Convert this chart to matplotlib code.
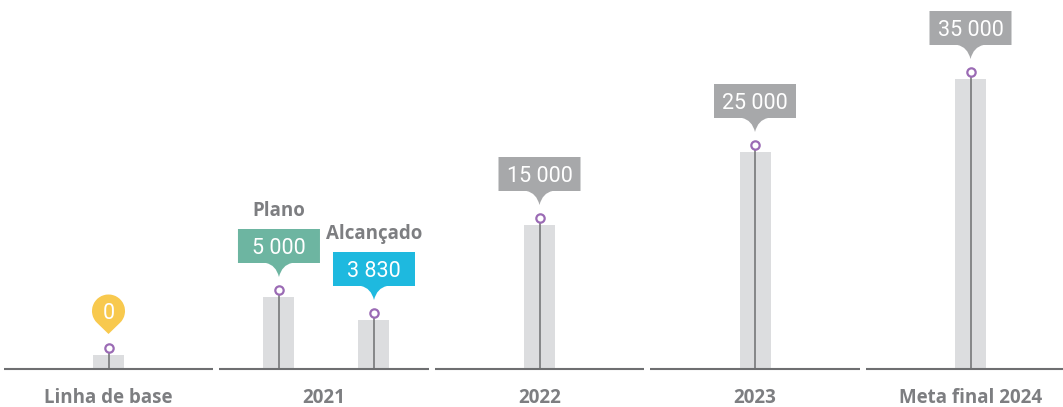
import matplotlib
matplotlib.use("Agg")
import matplotlib.pyplot as plt
import matplotlib.transforms as mtransforms
from matplotlib.path import Path
from matplotlib.patches import PathPatch
import numpy as np

# ---------------- data ----------------
categories = ["Linha de base", "2021", "2022", "2023", "Meta final 2024"]
bar_group = [0, 1, 1, 2, 3, 4]
bar_labels = ["0", "5 000", "3 830", "15 000", "25 000", "35 000"]
bar_values = [0, 5000, 3830, 15000, 25000, 35000]
# drawn heights (the original is not to scale)
bar_heights = [13.5, 71.5, 48.5, 143.5, 216.5, 289.5]
bar_sublabels = ["", "Plano", "Alcançado", "", "", ""]
callout_colors = ["#F8C94E", "#6DB5A1", "#1EB9DF", "#A7A8AA", "#A7A8AA", "#A7A8AA"]

# ---------------- layout / style ----------------
W, H, DPI = 1063, 407, 100
PX = 215.5                      # pixels per category
sub_offset = [0.0, -0.209, 0.232, 0.0, 0.0, 0.0]
bar_color = "#DCDDDF"
line_color = "#6E6F71"
text_color = "#7D7E81"
ring_color = "#9B6BB5"
LABEL_FONT = "Open Sans"
NUM_FONT = "Roboto"

fig = plt.figure(figsize=(W / DPI, H / DPI), dpi=DPI)
ax = fig.add_axes([0, 0, 1, 1])
ax.set_xlim(-108.5 / PX, (W - 108.5) / PX)
ax.set_ylim(-(H - 368.5), 368.5)
ax.axis("off")

x = np.array(bar_group, dtype=float) + np.array(sub_offset)
h = np.array(bar_heights)

# axis segments
for i in range(len(categories)):
    ax.hlines(0, i - 0.485, i + 0.485, color=line_color, lw=1.5, zorder=3)
    ax.text(i, -34.5, categories[i], ha="center", va="baseline",
            fontsize=13.5, fontweight="bold", color=text_color, family=LABEL_FONT)

# bars
ax.bar(x, h, width=31 / PX, color=bar_color, zorder=1)
ring_y = h + 7
ax.vlines(x, 0, ring_y - 4, color=line_color, lw=1.1, zorder=2)
ax.plot(x, ring_y, ls="none", marker="o", ms=6, mfc="white", mec=ring_color,
        mew=1.6, zorder=4)


def box_path():
    verts = [(-41, 27), (-13, 27), (-3, 25), (0, 13), (3, 25), (13, 27),
             (41, 27), (41, 61), (-41, 61), (-41, 27)]
    codes = [Path.MOVETO, Path.LINETO, Path.CURVE3, Path.CURVE3, Path.CURVE3,
             Path.CURVE3, Path.LINETO, Path.LINETO, Path.LINETO, Path.CLOSEPOLY]
    return Path(verts, codes)


def pin_path():
    r, cy, tip = 16.5, 37, 14
    d = cy - tip
    th = np.degrees(np.arccos(r / d))
    arc = Path.arc(-90 + th, 270 - th)
    arc_v = arc.vertices * r + np.array([0, cy])
    verts = [(0, tip)] + list(arc_v) + [(0, tip)]
    codes = [Path.MOVETO, Path.LINETO] + list(arc.codes[1:]) + [Path.CLOSEPOLY]
    return Path(verts, codes)


for k in range(len(bar_labels)):
    trans = mtransforms.Affine2D() + mtransforms.ScaledTranslation(x[k], ring_y[k], ax.transData)
    if k == 0:
        ax.add_patch(PathPatch(pin_path(), facecolor=callout_colors[k], edgecolor="none",
                               transform=trans, zorder=5))
        ty = 37
    else:
        ax.add_patch(PathPatch(box_path(), facecolor=callout_colors[k], edgecolor="none",
                               transform=trans, zorder=5))
        ty = 44
    tt = mtransforms.offset_copy(ax.transData, fig, x=0, y=ty, units="dots")
    ax.text(x[k], ring_y[k], bar_labels[k], transform=tt, ha="center", va="center_baseline",
            fontsize=15.5, color="white", family=NUM_FONT, zorder=6)
    if bar_sublabels[k]:
        ts = mtransforms.offset_copy(ax.transData, fig, x=0, y=74, units="dots")
        ax.text(x[k], ring_y[k], bar_sublabels[k], transform=ts, ha="center", va="baseline",
                fontsize=13.5, fontweight="bold", color=text_color, family=LABEL_FONT)

fig.savefig("out.png", dpi=DPI)
